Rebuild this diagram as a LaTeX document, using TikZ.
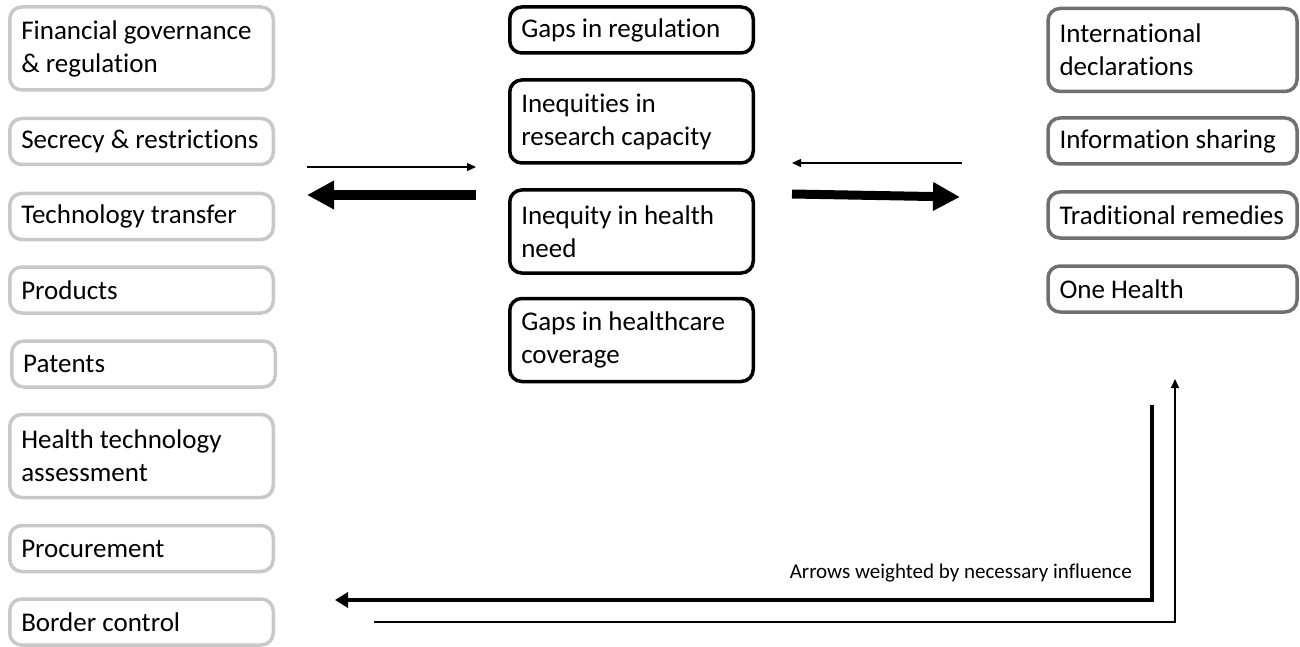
\documentclass[tikz,border=0pt]{standalone}
\usepackage{fontspec}
\setmainfont{Carlito}[Ligatures=NoCommon]
\usetikzlibrary{arrows.meta}
\definecolor{policygray}{RGB}{200,200,200}
\definecolor{globalgray}{RGB}{112,112,112}
\newcommand{\boxradius}{12pt}
\newcommand{\boxline}{3.5pt}
\newcommand{\thinhead}{-{Triangle[length=9pt,width=8pt]}}
\newcommand{\thickhead}{-{Triangle[length=27pt,width=27pt]}}

\tikzset{
    factor/.style={draw, rounded corners=\boxradius, line width=\boxline,
        align=flush left, inner xsep=11.5pt, inner ysep=0pt,
        font=\fontsize{27}{33}\selectfont},
    policy/.style={factor, draw=policygray, text width=240.5pt},
    gapbox/.style={factor, draw=black, text width=220.5pt},
    global/.style={factor, draw=globalgray, text width=226pt},
    one/.style={minimum height=46pt},
    two/.style={minimum height=83pt},
}

\begin{document}
\begin{tikzpicture}[x=1pt, y=-1pt]
\useasboundingbox (0,0) rectangle (1300,647);

% left column, national policy levers
\node[policy, two] (P1) at (141.5, 48.5) {Financial governance\\\& regulation};
\node[policy, one] (P2) at (141.5, 141.5) {Secrecy \& restrictions};
\node[policy, one] (P3) at (141.5, 216.5) {Technology transfer};
\node[policy, one] (P4) at (141.5, 290) {Products};
\node[policy, one] (P5) at (143.5, 364) {Patents};
\node[policy, two] (P6) at (141.5, 456) {Health technology\\assessment};
\node[policy, one] (P7) at (141.5, 548.5) {Procurement};
\node[policy, one] (P8) at (141.5, 622) {Border control};

% middle column, gaps
\node[gapbox, one] (G1) at (631.5, 30) {Gaps in regulation};
\node[gapbox, two] (G2) at (631.5, 121.5) {Inequities in\\research capacity};
\node[gapbox, two] (G3) at (631.5, 231.5) {Inequity in health\\need};
\node[gapbox, two] (G4) at (631.5, 340) {Gaps in healthcare\\coverage};

% right column, global levers
\node[global, two] (R1) at (1172.5, 50) {International\\declarations};
\node[global, one] (R2) at (1172.5, 141) {Information sharing};
\node[global, one] (R3) at (1172.5, 215) {Traditional remedies};
\node[global, one] (R4) at (1172.5, 289) {One Health};

% arrow end coordinates
\coordinate (a1) at (307, 167);
\coordinate (a2) at (476, 167);
\coordinate (b1) at (476, 195);
\coordinate (b2) at (307, 195);
\coordinate (c1) at (962, 163);
\coordinate (c2) at (792, 163);
\coordinate (d1) at (792, 194);
\coordinate (d2) at (960, 197);
\coordinate (L1) at (1152, 405);
\coordinate (L2) at (1152, 600);
\coordinate (L3) at (335, 600);
\coordinate (M1) at (374, 622);
\coordinate (M2) at (1175, 622);
\coordinate (M3) at (1175, 379);

\draw[line width=1.3pt, \thinhead] (a1) -- (a2);
\draw[line width=9pt, \thickhead] (b1) -- (b2);
\draw[line width=1.3pt, \thinhead] (c1) -- (c2);
\draw[line width=9pt, \thickhead] (d1) -- (d2);
% return loop
\draw[line width=4.5pt, line join=miter, -{Triangle[length=13pt,width=15pt]}] (L1) -- (L2) -- (L3);
\draw[line width=1.5pt, line join=miter, \thinhead] (M1) -- (M2) -- (M3);
\node[anchor=east, inner sep=0pt, font=\fontsize{21}{24}\selectfont] (note) at (1132, 573) {Arrows weighted by necessary influence};

\end{tikzpicture}
\end{document}
